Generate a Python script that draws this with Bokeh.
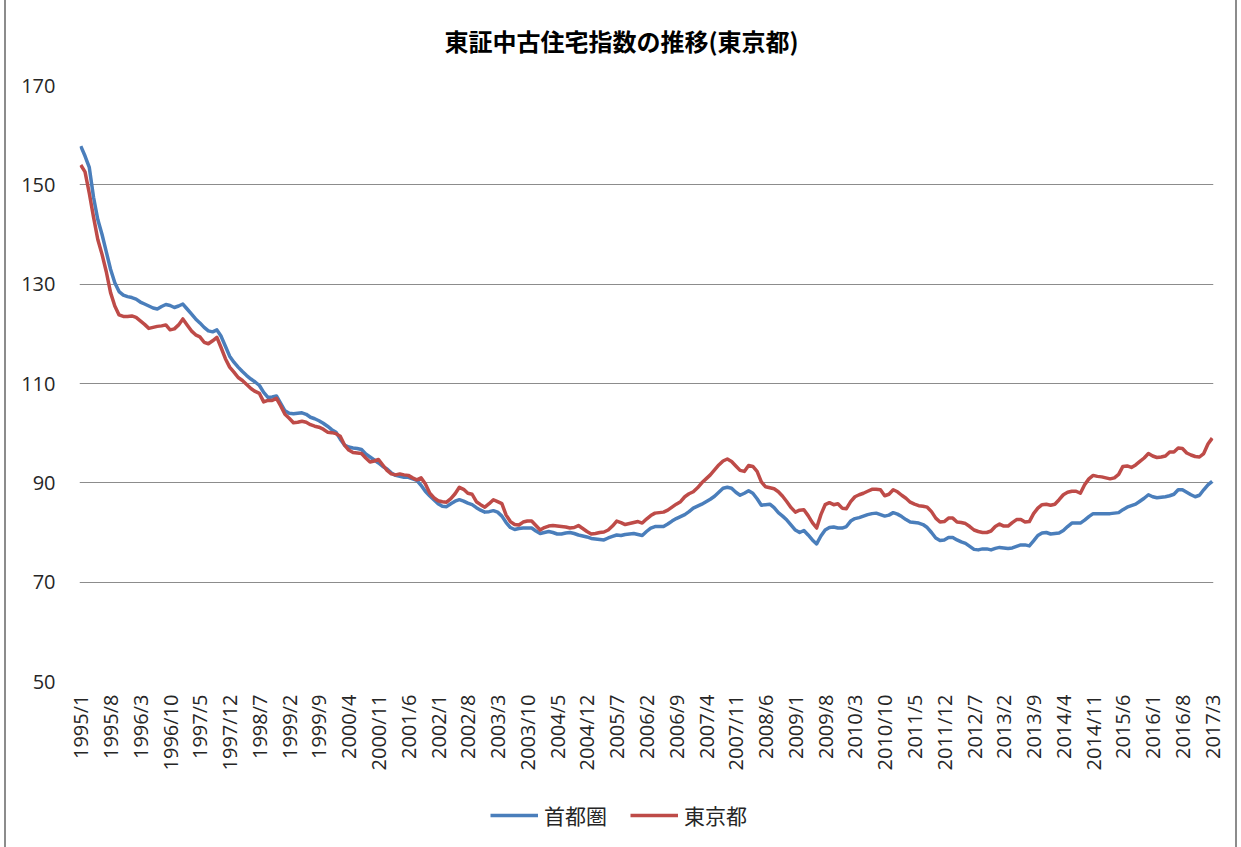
import math
from bokeh.plotting import figure
from bokeh.layouts import column
from bokeh.models import FixedTicker, Range1d, Legend, LegendItem, Label
from bokeh.embed import file_html
from bokeh.resources import INLINE

title_text = "東証中古住宅指数の推移(東京都)"
series_names = ["首都圏", "東京都"]
series_colors = ["#4A7EBB", "#BE4B48"]
start_year = 1995
tick_labels = ["1995/1", "1995/8", "1996/3", "1996/10", "1997/5", "1997/12", "1998/7",
               "1999/2", "1999/9", "2000/4", "2000/11", "2001/6", "2002/1", "2002/8",
               "2003/3", "2003/10", "2004/5", "2004/12", "2005/7", "2006/2", "2006/9",
               "2007/4", "2007/11", "2008/6", "2009/1", "2009/8", "2010/3", "2010/10",
               "2011/5", "2011/12", "2012/7", "2013/2", "2013/9", "2014/4", "2014/11",
               "2015/6", "2016/1", "2016/8", "2017/3"]
y_ticks = [50, 70, 90, 110, 130, 150, 170]

# 首都圏 (monthly, 1995/1 - 2017/3)
shutoken = [
    157.8, 155.8, 153.5, 147.5, 143.0, 140.0, 136.5, 133.0, 130.3, 128.5, 127.8, 127.5,  # 1995
    127.3, 127.0, 126.4, 126.0, 125.6, 125.2, 125.0, 125.5, 125.9, 125.7, 125.3, 125.6,  # 1996
    126.0, 125.0, 124.0, 123.0, 122.2, 121.3, 120.6, 120.4, 120.8, 119.5, 117.5, 115.5,  # 1997
    114.3, 113.3, 112.4, 111.6, 110.9, 110.3, 109.6, 108.2, 107.2, 107.3, 107.5, 106.0,  # 1998
    104.5, 104.0, 103.9, 104.0, 104.1, 103.8, 103.2, 102.9, 102.5, 102.0, 101.4, 100.7,  # 1999
    100.2, 98.8, 97.6, 97.2, 97.0, 96.9, 96.7, 95.8, 95.2, 94.6, 94.0, 93.3,  # 2000
    92.8, 92.0, 91.5, 91.3, 91.1, 91.1, 90.8, 90.5, 89.5, 88.3, 87.4, 86.6,  # 2001
    85.8, 85.3, 85.2, 85.8, 86.3, 86.6, 86.3, 85.9, 85.6, 85.0, 84.5, 84.1,  # 2002
    84.2, 84.4, 84.1, 83.3, 82.0, 81.0, 80.6, 80.8, 80.9, 80.9, 80.9, 80.3,  # 2003
    79.8, 80.0, 80.2, 80.0, 79.7, 79.7, 79.9, 80.0, 79.8, 79.5, 79.3, 79.1,  # 2004
    78.8, 78.7, 78.6, 78.5, 78.9, 79.2, 79.5, 79.4, 79.6, 79.7, 79.8, 79.6,  # 2005
    79.4, 80.2, 80.9, 81.2, 81.2, 81.2, 81.7, 82.3, 82.8, 83.2, 83.6, 84.2,  # 2006
    84.9, 85.3, 85.7, 86.2, 86.7, 87.3, 88.1, 88.9, 89.1, 88.9, 88.1, 87.5,  # 2007
    87.9, 88.4, 87.9, 86.8, 85.5, 85.6, 85.7, 85.0, 84.0, 83.3, 82.5, 81.5,  # 2008
    80.5, 80.0, 80.4, 79.5, 78.5, 77.7, 79.3, 80.5, 81.0, 81.1, 80.9, 80.9,  # 2009
    81.2, 82.3, 82.8, 83.0, 83.3, 83.6, 83.8, 83.9, 83.6, 83.3, 83.5, 84.0,  # 2010
    83.7, 83.2, 82.6, 82.1, 82.0, 81.9, 81.6, 81.0, 80.0, 78.9, 78.4, 78.5,  # 2011
    79.0, 79.0, 78.5, 78.1, 77.8, 77.2, 76.6, 76.5, 76.7, 76.7, 76.5, 76.8,  # 2012
    77.0, 76.9, 76.8, 76.9, 77.2, 77.5, 77.5, 77.3, 78.3, 79.4, 79.9, 80.0,  # 2013
    79.7, 79.8, 79.9, 80.4, 81.2, 81.9, 81.9, 81.9, 82.5, 83.2, 83.8, 83.8,  # 2014
    83.8, 83.8, 83.8, 83.9, 84.0, 84.6, 85.1, 85.4, 85.7, 86.3, 86.9, 87.6,  # 2015
    87.2, 87.0, 87.1, 87.2, 87.4, 87.7, 88.6, 88.6, 88.1, 87.6, 87.2, 87.5,  # 2016
    88.6, 89.6, 90.3,  # 2017
]

# 東京都 (monthly, 1995/1 - 2017/3)
tokyo = [
    154.0, 152.6, 148.3, 143.5, 139.0, 136.0, 132.5, 128.3, 125.6, 123.8, 123.5, 123.5,  # 1995
    123.6, 123.3, 122.6, 121.9, 121.1, 121.3, 121.5, 121.6, 121.8, 120.8, 121.0, 121.8,  # 1996
    123.0, 121.8, 120.6, 119.8, 119.4, 118.3, 118.0, 118.6, 119.3, 117.2, 115.0, 113.3,  # 1997
    112.3, 111.2, 110.6, 109.8, 109.0, 108.4, 108.0, 106.3, 106.6, 106.6, 107.0, 105.5,  # 1998
    103.8, 103.0, 102.1, 102.2, 102.4, 102.2, 101.7, 101.4, 101.2, 100.8, 100.2, 100.1,  # 1999
    99.9, 99.4, 97.6, 96.6, 96.1, 96.0, 95.9, 95.0, 94.2, 94.4, 94.7, 93.6,  # 2000
    92.5, 91.8, 91.6, 91.8, 91.6, 91.5, 91.0, 90.6, 91.0, 89.8, 88.0, 87.0,  # 2001
    86.4, 86.2, 86.1, 86.8, 87.8, 89.1, 88.7, 87.9, 87.7, 86.2, 85.6, 85.1,  # 2002
    85.8, 86.6, 86.2, 85.8, 83.5, 82.2, 81.6, 81.5, 82.1, 82.3, 82.3, 81.4,  # 2003
    80.5, 81.0, 81.3, 81.4, 81.3, 81.2, 81.1, 80.9, 81.0, 81.4, 80.8, 80.2,  # 2004
    79.7, 79.8, 80.0, 80.1, 80.5, 81.3, 82.3, 82.0, 81.6, 81.8, 82.0, 82.2,  # 2005
    81.9, 82.7, 83.4, 83.9, 84.0, 84.1, 84.5, 85.1, 85.7, 86.2, 87.2, 87.8,  # 2006
    88.2, 89.0, 90.0, 90.8, 91.6, 92.6, 93.6, 94.4, 94.8, 94.3, 93.4, 92.5,  # 2007
    92.3, 93.5, 93.3, 92.3, 90.2, 89.2, 89.0, 88.8, 88.2, 87.3, 86.2, 85.0,  # 2008
    84.1, 84.5, 84.6, 83.4, 82.0, 80.9, 83.6, 85.6, 86.0, 85.6, 85.8, 84.9,  # 2009
    84.8, 86.2, 87.2, 87.6, 87.9, 88.3, 88.7, 88.7, 88.6, 87.4, 87.7, 88.6,  # 2010
    88.2, 87.5, 86.9, 86.1, 85.7, 85.4, 85.3, 85.1, 84.2, 82.9, 82.1, 82.2,  # 2011
    82.9, 82.9, 82.1, 82.0, 81.8, 81.2, 80.5, 80.2, 80.0, 80.0, 80.3, 81.2,  # 2012
    81.7, 81.3, 81.3, 82.0, 82.6, 82.6, 82.1, 82.2, 83.8, 84.9, 85.6, 85.7,  # 2013
    85.5, 85.7, 86.6, 87.6, 88.1, 88.3, 88.3, 87.9, 89.6, 90.8, 91.5, 91.3,  # 2014
    91.2, 91.0, 90.8, 91.0, 91.7, 93.3, 93.4, 93.1, 93.6, 94.3, 95.0, 95.9,  # 2015
    95.4, 95.1, 95.2, 95.4, 96.2, 96.2, 97.0, 96.9, 96.0, 95.6, 95.3, 95.2,  # 2016
    95.9, 97.8, 99.0,  # 2017
]

months = list(range(len(shutoken)))


def month_index(label):
    y, m = label.split("/")
    return (int(y) - start_year) * 12 + int(m) - 1


tick_pos = [month_index(t) for t in tick_labels]

FONT = "Open Sans"
CJK = "Noto Sans CJK JP"
TXT = "#262626"
CANVAS_W = 73 + 1134 + 22
TITLE_H = 60
LEGEND_H = 56


def strip(height):
    s = figure(frame_width=CANVAS_W, frame_height=height,
               x_range=Range1d(0, CANVAS_W), y_range=Range1d(0, height),
               x_axis_type=None, y_axis_type=None,
               output_backend="svg", toolbar_location=None,
               min_border_left=0, min_border_right=0, min_border_top=0, min_border_bottom=0)
    s.outline_line_color = None
    s.background_fill_color = "white"
    s.border_fill_color = "white"
    return s


# ---- title strip ----
t = strip(TITLE_H)
t.add_layout(Label(x=542, y=TITLE_H - 40, text=title_text, text_align="center",
                   text_baseline="middle", text_font=CJK, text_font_style="bold",
                   text_font_size="24px", text_color="#000000"))

# ---- main chart ----
p = figure(frame_width=1134, frame_height=596,
           x_range=Range1d(-0.3, months[-1] + 0.3), y_range=Range1d(50, 170),
           output_backend="svg", toolbar_location=None,
           min_border_left=73, min_border_right=22, min_border_top=85 - TITLE_H,
           min_border_bottom=110)
p.outline_line_color = None
p.background_fill_color = "white"
p.border_fill_color = "white"

p.xgrid.visible = False
p.ygrid.grid_line_color = "#8c8c8c"
p.ygrid.grid_line_width = 1
p.yaxis.ticker = FixedTicker(ticks=y_ticks)
p.yaxis.axis_line_color = None
p.yaxis.major_tick_line_color = None
p.yaxis.minor_tick_line_color = None
p.yaxis.major_label_text_font = FONT
p.yaxis.major_label_text_font_size = "20px"
p.yaxis.major_label_text_color = TXT
p.yaxis.major_label_standoff = 18

p.xaxis.ticker = FixedTicker(ticks=tick_pos)
p.xaxis.major_label_overrides = {pos: lab for pos, lab in zip(tick_pos, tick_labels)}
p.xaxis.major_label_orientation = math.pi / 2
p.xaxis.axis_line_color = None
p.xaxis.major_tick_line_color = None
p.xaxis.minor_tick_line_color = None
p.xaxis.major_label_text_font = FONT
p.xaxis.major_label_text_font_size = "20px"
p.xaxis.major_label_text_color = TXT
p.xaxis.major_label_standoff = 7

p.line(months, shutoken, line_color=series_colors[0], line_width=3.5, line_join="round")
p.line(months, tokyo, line_color=series_colors[1], line_width=3.5, line_join="round")

# ---- legend strip ----
q = strip(LEGEND_H)
# swatch renderers placed outside the visible range; they only feed the legend
swatches = [q.line([-10, -5], [-10, -10], line_color=c, line_width=3.5) for c in series_colors]
legend = Legend(items=[LegendItem(label=n, renderers=[r]) for n, r in zip(series_names, swatches)],
                orientation="horizontal", location=(484, 17),
                glyph_width=48, glyph_height=20, label_standoff=6, spacing=23,
                label_text_font=CJK, label_text_font_size="21px", label_text_color=TXT,
                border_line_color=None, background_fill_alpha=0, padding=2, margin=0)
q.add_layout(legend, "center")

layout = column(t, p, q, spacing=0,
                styles={"margin-left": "6px",
                        "box-shadow": "-2px 0 0 0 #8c8c8c, 2px 0 0 0 #8c8c8c"})

open("out.html", "w").write(file_html(layout, INLINE))
